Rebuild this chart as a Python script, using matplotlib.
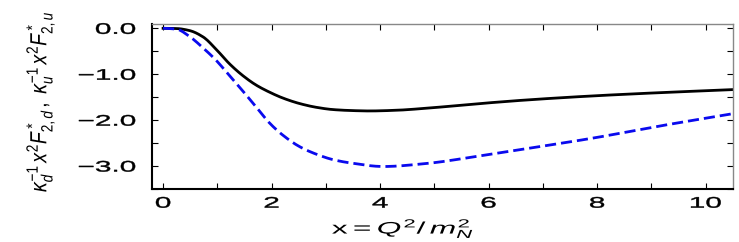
import numpy as np
import matplotlib
matplotlib.use('Agg')
import matplotlib.pyplot as plt
from matplotlib.ticker import MultipleLocator, FuncFormatter
from matplotlib.patheffects import AbstractPathEffect
from matplotlib.transforms import Affine2D

plt.rcParams['font.family'] = ['Liberation Sans', 'DejaVu Sans']
plt.rcParams['mathtext.fontset'] = 'custom'
plt.rcParams['mathtext.rm'] = 'Liberation Sans'
plt.rcParams['mathtext.it'] = 'Liberation Sans:italic'

# values
x_d = [0.0, 0.25, 0.49, 0.74, 0.98, 1.23, 1.48, 1.72, 1.96, 2.21, 2.52, 2.82,
       3.13, 3.44, 3.8, 4.3, 4.81, 5.73, 6.65, 7.88, 9.0, 10.5]
f_d = [0.0, -0.005, -0.05, -0.19, -0.46, -0.78, -1.04, -1.24, -1.39, -1.52, -1.64, -1.72,
       -1.77, -1.79, -1.80, -1.785, -1.745, -1.65, -1.565, -1.475, -1.41, -1.335]

x_u = [0.0, 0.25, 0.49, 0.74, 0.98, 1.23, 1.48, 1.72, 1.96, 2.21, 2.52, 2.82,
       3.13, 3.44, 4.06, 4.81, 5.73, 6.65, 7.88, 9.29, 10.5]
f_u = [0.0, -0.02, -0.18, -0.43, -0.70, -1.04, -1.38, -1.72, -2.06, -2.33, -2.58, -2.74,
       -2.86, -2.93, -3.01, -2.95, -2.80, -2.63, -2.40, -2.10, -1.86]


def smooth(xs, ys, n=400):
    # pchip through the read points
    xs = np.asarray(xs, float)
    ys = np.asarray(ys, float)
    h = np.diff(xs)
    d = np.diff(ys) / h
    m = np.zeros_like(ys)
    for i in range(1, len(ys) - 1):
        if d[i - 1] * d[i] > 0:
            w1 = 2 * h[i] + h[i - 1]
            w2 = h[i] + 2 * h[i - 1]
            m[i] = (w1 + w2) / (w1 / d[i - 1] + w2 / d[i])
    m[0] = 0.0
    m[-1] = d[-1]
    xx = np.linspace(xs[0], xs[-1], n)
    idx = np.clip(np.searchsorted(xs, xx) - 1, 0, len(h) - 1)
    t = (xx - xs[idx]) / h[idx]
    h00 = 2 * t**3 - 3 * t**2 + 1
    h10 = t**3 - 2 * t**2 + t
    h01 = -2 * t**3 + 3 * t**2
    h11 = t**3 - t**2
    yy = h00 * ys[idx] + h10 * h[idx] * m[idx] + h01 * ys[idx + 1] + h11 * h[idx] * m[idx + 1]
    return xx, yy


class Stretch(AbstractPathEffect):
    """scale glyphs in their own frame (the reference text is drawn wide)"""
    def __init__(self, sx=1.0, sy=1.0, hx='center', vy='bottom', stroke=0.0):
        super().__init__()
        self.sx, self.sy, self.hx, self.vy, self.stroke = sx, sy, hx, vy, stroke

    def draw_path(self, renderer, gc, tpath, affine, rgbFace=None):
        ext = tpath.get_extents()
        cx = {'left': ext.x0, 'right': ext.x1}.get(self.hx, 0.5 * (ext.x0 + ext.x1))
        cy = {'bottom': ext.y0, 'top': ext.y1}.get(self.vy, 0.5 * (ext.y0 + ext.y1))
        pre = Affine2D().translate(-cx, -cy).scale(self.sx, self.sy).translate(cx, cy)
        gc0 = renderer.new_gc()
        gc0.copy_properties(gc)
        if self.stroke:
            gc0.set_linewidth(self.stroke)
            gc0.set_foreground(rgbFace)
        renderer.draw_path(gc0, tpath, pre + affine, rgbFace)
        gc0.restore()


fig = plt.figure(figsize=(7.39, 2.42), dpi=100)
ax = fig.add_axes([0.206, 0.219, 0.7855, 0.683])

xs, ys = smooth(x_d, f_d)
ax.plot(xs, ys, color='black', lw=2)
xs, ys = smooth(x_u, f_u)
ax.plot(xs, ys, color='#0a0aee', lw=2, ls=(0, (4, 1.8)))

ax.set_xlim(-0.2, 10.5)
ax.set_ylim(-3.5, 0.1)

ax.xaxis.set_major_locator(MultipleLocator(2))
ax.xaxis.set_minor_locator(MultipleLocator(1))
ax.yaxis.set_major_locator(MultipleLocator(1))
ax.yaxis.set_minor_locator(MultipleLocator(0.5))
ax.yaxis.set_major_formatter(FuncFormatter(lambda v, p: '%.1f' % v if v >= 0 else '\u2212%.1f' % -v))

ax.tick_params(which='both', direction='in', top=True, right=True,
               length=4, width=0.8, labelsize=11)
ax.tick_params(axis='y', pad=12)
ax.tick_params(axis='x', pad=5.5)

for s in ['left', 'bottom']:
    ax.spines[s].set_linewidth(1.5)
for s in ['top', 'right']:
    ax.spines[s].set_color('#888888')
    ax.spines[s].set_linewidth(1.0)

ax.set_xlabel(r'x$=Q^2/\,m_N^2$', fontsize=12)
ax.xaxis.set_label_coords(0.432, -0.165)
ax.set_ylabel(r'$\kappa_d^{-1}\,x^2F^*_{2,d}\,,\ \kappa_u^{-1}\,x^2F^*_{2,u}$', fontsize=14)
ax.yaxis.set_label_coords(-0.163, 0.53)

fig.canvas.draw()
for lbl in ax.get_yticklabels():
    lbl.set_path_effects([Stretch(sx=1.95, hx='right', stroke=0.3)])
for lbl in ax.get_xticklabels():
    lbl.set_path_effects([Stretch(sx=1.95, stroke=0.3)])
ax.xaxis.label.set_path_effects([Stretch(sx=1.9)])
ax.yaxis.label.set_path_effects([Stretch(sy=1.2, vy='bottom')])

fig.savefig('out.png', dpi=100)
